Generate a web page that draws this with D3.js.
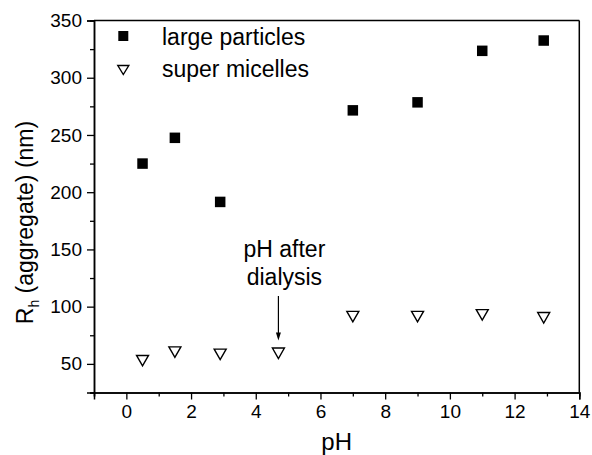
<!DOCTYPE html>
<html>
<head>
<meta charset="utf-8">
<script src="https://cdn.jsdelivr.net/npm/d3@7"></script>
<style>
  html, body { margin: 0; padding: 0; background: #fff; }
  svg { display: block; font-family: "Liberation Sans", Arial, Helvetica, sans-serif; }
</style>
</head>
<body>
<script>
// ---- data ----
const largePH = [0.5, 1.5, 2.9, 7.0, 9.0, 11.0, 12.9];
const largeRh = [225, 247.5, 191.5, 271.5, 278.5, 323.5, 332.5];
const superPH = [0.5, 1.5, 2.9, 4.7, 7.0, 9.0, 11.0, 12.9];
const superRh = [53, 60.5, 58.5, 59.5, 91.5, 91.5, 93, 90.5];
const xTicks = [0, 2, 4, 6, 8, 10, 12, 14];
const yTicks = [50, 100, 150, 200, 250, 300, 350];
const seriesNames = ["large particles", "super micelles"];
const annotation = { ph: 4.7, rh: 59.5, lines: ["pH after", "dialysis"] };

const W = 592, H = 455;
const m = { left: 94, right: 592 - 579.3, top: 20.5, bottom: 455 - 392.5 };

const svg = d3.select("body").append("svg").attr("width", W).attr("height", H);

const x = d3.scaleLinear().domain([-1, 14]).range([m.left, W - m.right]);
const y = d3.scaleLinear().domain([25, 350]).range([H - m.bottom, m.top]);

const axisStroke = 1.5;

// minor ticks
const xMinor = d3.range(-1, 15, 1).filter(v => !xTicks.includes(v));
const yMinor = d3.range(25, 351, 25).filter(v => !yTicks.includes(v));

const gx = svg.append("g").attr("transform", `translate(0,${H - m.bottom})`);
gx.call(d3.axisBottom(x).tickValues(xMinor).tickSize(4).tickFormat(""));
gx.append("g").call(d3.axisBottom(x).tickValues(xTicks).tickSize(7).tickPadding(5).tickFormat(d3.format("d")));
gx.selectAll("path.domain").attr("stroke-width", axisStroke);
gx.selectAll(".tick line").attr("stroke-width", 1.3);
gx.selectAll("text").attr("font-size", 19).attr("fill", "#000");

const gy = svg.append("g").attr("transform", `translate(${m.left},0)`);
gy.call(d3.axisLeft(y).tickValues(yMinor).tickSize(4).tickFormat(""));
gy.append("g").call(d3.axisLeft(y).tickValues(yTicks).tickSize(7).tickPadding(5).tickFormat(d3.format("d")));
gy.selectAll("path.domain").attr("stroke-width", axisStroke);
gy.selectAll(".tick line").attr("stroke-width", 1.3);
gy.selectAll("text").attr("font-size", 19).attr("fill", "#000");

// top and right frame
svg.append("line").attr("x1", x(-1)).attr("x2", x(14)).attr("y1", y(350)).attr("y2", y(350))
  .attr("stroke", "#000").attr("stroke-width", axisStroke);
svg.append("line").attr("x1", x(14)).attr("x2", x(14)).attr("y1", y(350)).attr("y2", y(25))
  .attr("stroke", "#000").attr("stroke-width", axisStroke);

// axis labels
svg.append("text").attr("x", (x(-1) + x(14)) / 2).attr("y", 450)
  .attr("text-anchor", "middle").attr("font-size", 24).text("pH");

const yl = svg.append("text")
  .attr("transform", `translate(33,${(y(25) + y(350)) / 2 + 16}) rotate(-90)`)
  .attr("text-anchor", "middle").attr("font-size", 23);
yl.append("tspan").text("R");
yl.append("tspan").attr("font-size", 14).attr("dy", 6).text("h");
yl.append("tspan").attr("dy", -6).text(" (aggregate) (nm)");

// markers
const sq = 10.5;
const triPath = "M-6,-5L6,-5L0,5.5Z";

svg.append("g").selectAll("rect").data(largePH.map((p, i) => [p, largeRh[i]]))
  .join("rect")
  .attr("x", d => x(d[0]) - sq / 2).attr("y", d => y(d[1]) - sq / 2)
  .attr("width", sq).attr("height", sq).attr("fill", "#000");

svg.append("g").selectAll("path").data(superPH.map((p, i) => [p, superRh[i]]))
  .join("path")
  .attr("transform", d => `translate(${x(d[0])},${y(d[1])})`)
  .attr("d", triPath).attr("fill", "#fff").attr("stroke", "#000").attr("stroke-width", 1.4)
  .attr("stroke-linejoin", "miter");

// legend
const lg = svg.append("g");
lg.append("rect").attr("x", 123.3 - 5).attr("y", 36 - 5).attr("width", 10).attr("height", 10).attr("fill", "#000");
lg.append("path").attr("transform", "translate(123.3,70)").attr("d", "M-5.5,-4.5L5.5,-4.5L0,4.5Z")
  .attr("fill", "#fff").attr("stroke", "#000").attr("stroke-width", 1.4);
lg.append("text").attr("x", 162).attr("y", 45).attr("font-size", 23).text(seriesNames[0]);
lg.append("text").attr("x", 162).attr("y", 77).attr("font-size", 23).text(seriesNames[1]);

// annotation
const ax = x(annotation.ph);
const tipY = y(annotation.rh) - 12.5;
svg.append("line").attr("x1", ax).attr("x2", ax).attr("y1", 296).attr("y2", tipY - 3)
  .attr("stroke", "#000").attr("stroke-width", 1.2);
svg.append("path").attr("d", `M${ax - 2.5},${tipY - 8}L${ax + 2.5},${tipY - 8}L${ax},${tipY}Z`).attr("fill", "#000");
svg.append("text").attr("x", ax + 6).attr("y", 256.5).attr("text-anchor", "middle").attr("font-size", 23).text(annotation.lines[0]);
svg.append("text").attr("x", ax + 6).attr("y", 285).attr("text-anchor", "middle").attr("font-size", 23).text(annotation.lines[1]);
</script>
</body>
</html>
